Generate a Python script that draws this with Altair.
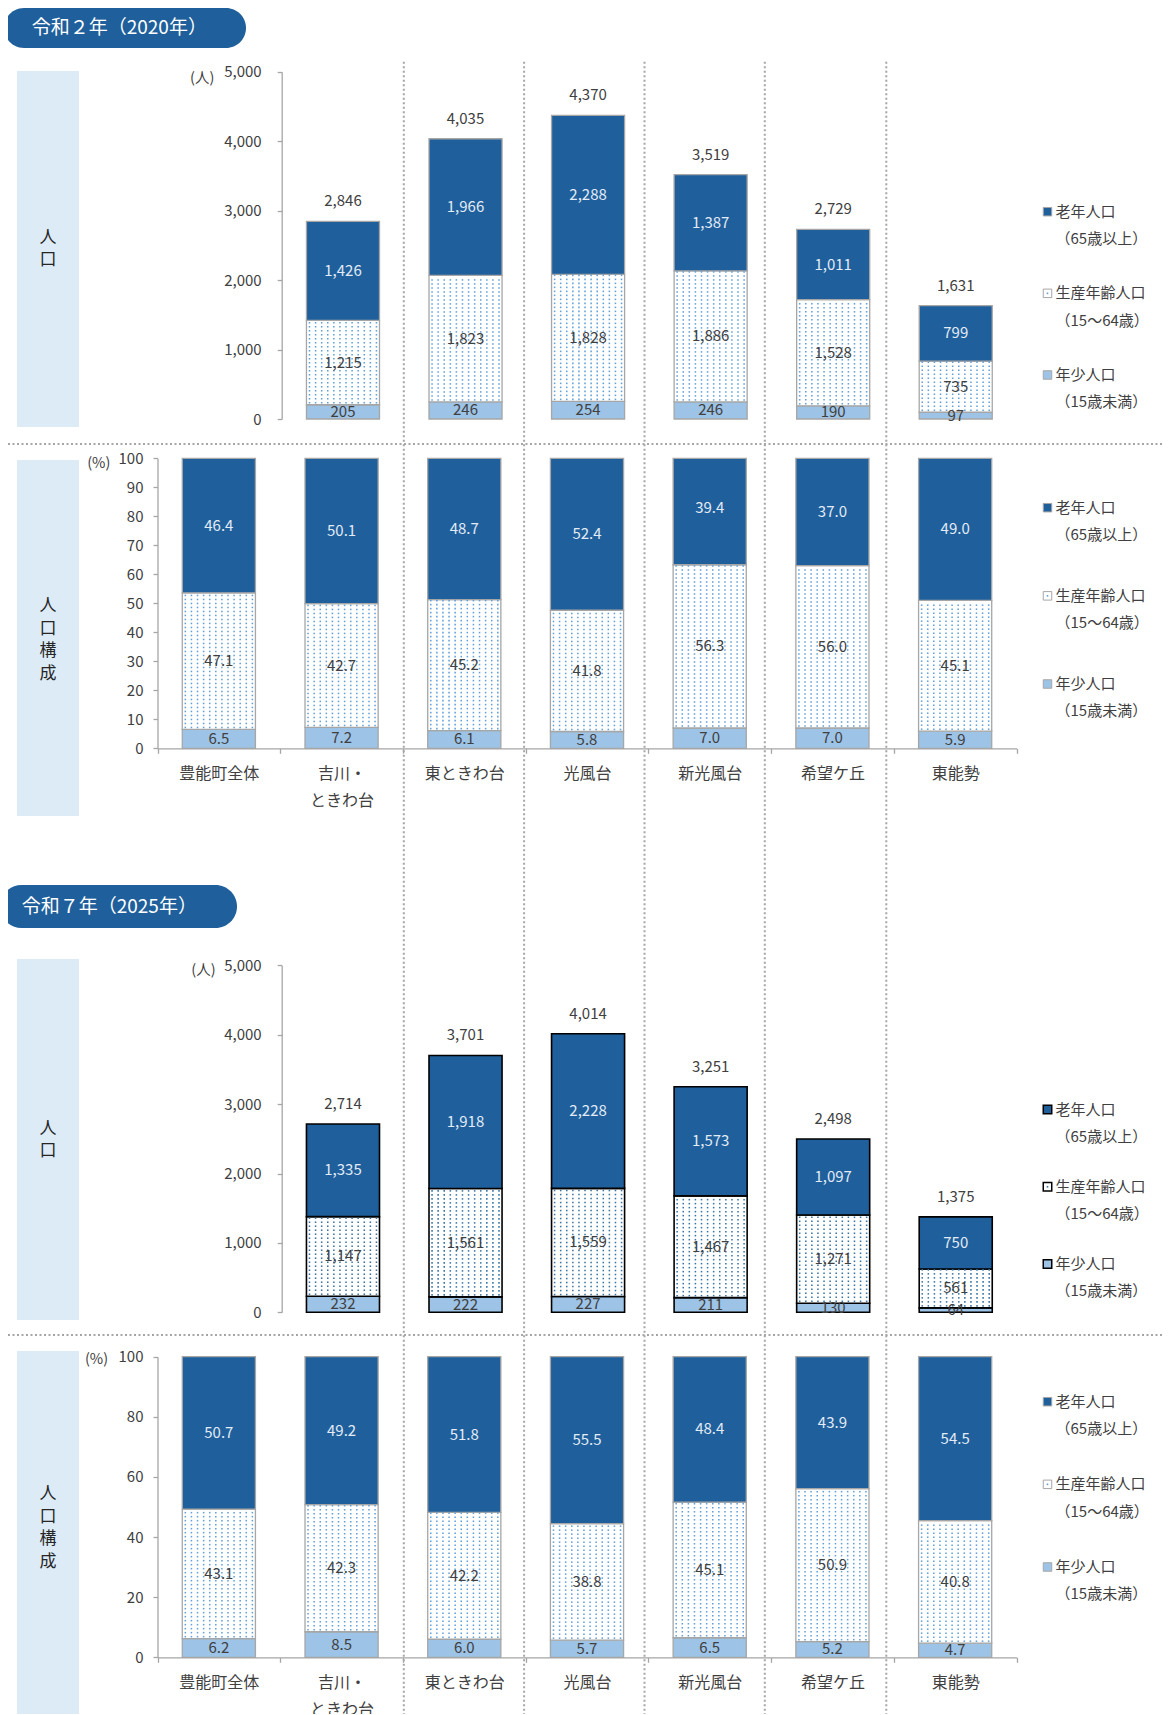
import json
import altair as alt
import pandas as pd

FONT = "Noto Sans CJK JP"

# ---------------- data ----------------
CATEGORIES = ["豊能町全体", "吉川・ときわ台", "東ときわ台", "光風台", "新光風台", "希望ケ丘", "東能勢"]
CATEGORY_LINES = [["豊能町全体"], ["吉川・", "ときわ台"], ["東ときわ台"], ["光風台"],
                  ["新光風台"], ["希望ケ丘"], ["東能勢"]]
GROUPS = ["老年人口", "生産年齢人口", "年少人口"]
GROUP_NOTES = ["（65歳以上）", "（15～64歳）", "（15歳未満）"]

# 令和2年 (2020) population, areas 吉川・ときわ台 .. 東能勢
OLD_2020 = [1426, 1966, 2288, 1387, 1011, 799]
WORK_2020 = [1215, 1823, 1828, 1886, 1528, 735]
YOUNG_2020 = [205, 246, 254, 246, 190, 97]
# 令和2年 (2020) composition (%), all 7 areas
OLD_PCT_2020 = [46.4, 50.1, 48.7, 52.4, 39.4, 37.0, 49.0]
WORK_PCT_2020 = [47.1, 42.7, 45.2, 41.8, 56.3, 56.0, 45.1]
YOUNG_PCT_2020 = [6.5, 7.2, 6.1, 5.8, 7.0, 7.0, 5.9]

# 令和7年 (2025)
OLD_2025 = [1335, 1918, 2228, 1573, 1097, 750]
WORK_2025 = [1147, 1561, 1559, 1467, 1271, 561]
YOUNG_2025 = [232, 222, 227, 211, 130, 64]
OLD_PCT_2025 = [50.7, 49.2, 51.8, 55.5, 48.4, 43.9, 54.5]
WORK_PCT_2025 = [43.1, 42.3, 42.2, 38.8, 45.1, 50.9, 40.8]
YOUNG_PCT_2025 = [6.2, 8.5, 6.0, 5.7, 6.5, 5.2, 4.7]

COUNT_TICKS = [0, 1000, 2000, 3000, 4000, 5000]
PCT_TICKS_2020 = [0, 10, 20, 30, 40, 50, 60, 70, 80, 90, 100]
PCT_TICKS_2025 = [0, 20, 40, 60, 80, 100]

TITLE_2020 = "令和２年（2020年）"
TITLE_2025 = "令和７年（2025年）"
SIDE_COUNT = "人\n口"
SIDE_PCT = "人\n口\n構\n成"

# ---------------- style ----------------
W, H = 1155, 1706
TXT = "#404040"
OLD_C = "#1F5F9B"
WORK_C = "#FFFFFF"
YOUNG_C = "#9DC3E6"
OLD_LABEL_C = "#E2EBF6"
BOX_C = "#DDEBF7"
PILL_C = "#1F5F9B"
SEP_C = "#A6A6A6"
GRAY = "#A6A6A6"
DOT_LIGHT = "#5B9BD5"
DOT_DARK = "#2E6D9E"
HW = 0.298          # half bar width in category units
NCOLS = 12          # dot columns in the hatched segment
DOT_PX = 4.0        # vertical dot spacing in px

ONE = pd.DataFrame({"k": [0]})


def long_table(old, work, young, first_idx):
    recs = []
    for i in range(len(old)):
        base = 0.0
        for g, v in ((GROUPS[2], young[i]), (GROUPS[1], work[i]), (GROUPS[0], old[i])):
            recs.append({"cat": CATEGORIES[first_idx + i], "idx": first_idx + i, "group": g,
                         "value": v, "y0": base, "y1": base + v, "mid": base + v / 2})
            base += v
    return pd.DataFrame(recs)


CAT_EXPR = json.dumps(CATEGORY_LINES, ensure_ascii=False) + "[datum.value]"

COLOR_SCALE = dict(domain=GROUPS, range=[OLD_C, WORK_C, YOUNG_C])


def panel_layers(p):
    df = p["df"]
    xs = alt.Scale(domain=list(p["xdom"]), range=list(p["xrng"]), zero=False, nice=False)
    ys = alt.Scale(domain=list(p["ydom"]), range=list(p["yrng"]), zero=False, nice=False, clamp=True)
    yaxis = alt.Axis(orient="left", offset=-p["xrng"][0], values=p["yticks"], format=p["yfmt"],
                     tickSize=4.5, labelPadding=p["labpad"], title=p["unit"], titleAngle=0,
                     titleX=p["unit_xy"][0] - p["xrng"][0], titleY=p["unit_xy"][1],
                     titleAlign="center", titleBaseline="middle", titleFontSize=14.5,
                     titleFontWeight="normal", titleColor=TXT, grid=False)
    if p["xaxis_y"] is None:
        bar_xaxis = None
        cat_axis = None
    else:
        n = int(round(p["xdom"][1] - p["xdom"][0]))
        off = p["xaxis_y"] - H
        bar_xaxis = alt.Axis(orient="bottom", offset=off,
                             values=[p["xdom"][0] + k for k in range(n + 1)],
                             labels=False, tickSize=5, title=None, grid=False)
        cat_axis = alt.Axis(orient="bottom", offset=off, values=list(range(n)), domain=False,
                            ticks=False, tickSize=0, labelPadding=17, labelExpr=CAT_EXPR,
                            labelFontSize=16, labelColor=TXT, labelLineHeight=27,
                            labelOverlap=False, labelBound=False, labelFlush=False,
                            title=None, grid=False)

    bars = alt.Chart(df).transform_calculate(
        xa=f"datum.idx - {HW}", xb=f"datum.idx + {HW}"
    ).mark_rect(stroke=p["stroke"], strokeWidth=p["sw"]).encode(
        x=alt.X("xa:Q", scale=xs, axis=bar_xaxis),
        x2="xb:Q",
        y=alt.Y("y0:Q", scale=ys, axis=yaxis),
        y2="y1:Q",
        color=alt.Color("group:N", scale=alt.Scale(**COLOR_SCALE), legend=None),
    )

    span = abs(p["yrng"][0] - p["yrng"][1])
    step = DOT_PX * (p["ydom"][1] - p["ydom"][0]) / span
    dots = alt.Chart(df).transform_filter(
        alt.datum.group == GROUPS[1]
    ).transform_calculate(
        row=f"sequence(datum.y0 + {step / 2}, datum.y1 - {step * 0.2}, {step})"
    ).transform_flatten(["row"]).transform_calculate(
        col=f"sequence(0, {NCOLS})"
    ).transform_flatten(["col"]).transform_calculate(
        xd=f"datum.idx - {HW} + (datum.col + 0.5) * {2 * HW / NCOLS}"
    ).mark_square(size=2.4, color=p["dot"], opacity=0.95).encode(
        x=alt.X("xd:Q", scale=xs, axis=cat_axis),
        y=alt.Y("row:Q", scale=ys, axis=None),
    )

    labels = alt.Chart(df).mark_text(fontSize=15, baseline="middle").encode(
        x=alt.X("idx:Q", scale=xs, axis=None),
        y=alt.Y("mid:Q", scale=ys, axis=None),
        text=alt.Text("value:Q", format=p["vfmt"]),
        color=alt.condition(alt.datum.group == GROUPS[0], alt.value(OLD_LABEL_C), alt.value(TXT)),
    )
    out = [bars, dots, labels]
    if p["totals"]:
        totals = alt.Chart(df).transform_aggregate(
            total="sum(value)", groupby=["idx"]
        ).mark_text(fontSize=15, dy=-20, color=TXT, baseline="middle").encode(
            x=alt.X("idx:Q", scale=xs, axis=None),
            y=alt.Y("total:Q", scale=ys, axis=None),
            text=alt.Text("total:Q", format=","),
        )
        out.append(totals)
    return out


LEG_SYM_X = 1039.5
LEG_TXT_X = 1047.5


def legend_layers(y_first, y_last, stroke, sw, dot):
    ldf = pd.DataFrame({"group": GROUPS,
                        "label": [f"{g}\n{n}" for g, n in zip(GROUPS, GROUP_NOTES)]})
    ysc = alt.Scale(type="point", domain=GROUPS, range=[y_first, y_last], padding=0)
    sq = alt.Chart(ldf).mark_square(size=72, stroke=stroke, strokeWidth=sw, opacity=1,
                                    filled=True).encode(
        x=alt.value(LEG_SYM_X),
        y=alt.Y("group:N", scale=ysc, axis=None),
        color=alt.Color("group:N", scale=alt.Scale(**COLOR_SCALE), legend=None),
    )
    sdot = alt.Chart(ldf).transform_filter(alt.datum.group == GROUPS[1]).mark_square(
        size=2.5, color=dot, opacity=1).encode(
        x=alt.value(LEG_SYM_X),
        y=alt.Y("group:N", scale=ysc, axis=None),
    )
    tx = alt.Chart(ldf).mark_text(align="left", baseline="middle", fontSize=15, lineBreak="\n",
                                  lineHeight=27.4, color=TXT).encode(
        x=alt.value(LEG_TXT_X),
        y=alt.Y("group:N", scale=ysc, axis=None),
        text="label:N",
    )
    return [sq, sdot, tx]


def rect(x1, x2, y1, y2, color, radius=None):
    kw = {"color": color}
    if radius:
        kw["cornerRadius"] = radius
    return alt.Chart(ONE).mark_rect(**kw).encode(
        x=alt.value(x1), x2=alt.value(x2), y=alt.value(y1), y2=alt.value(y2))


def text_at(x, y, text, size, color, align="center", line_height=22):
    # multi-line text: the first line sits at y, so shift the block to centre it
    n_lines = text.count("\n") + 1
    return alt.Chart(ONE).mark_text(text=text, fontSize=size, color=color, align=align,
                                    baseline="middle", lineBreak="\n", lineHeight=line_height,
                                    dy=-(n_lines - 1) * line_height / 2).encode(
        x=alt.value(x), y=alt.value(y))


layers = []
# side boxes
for (y1, y2) in ((63, 419), (452, 808), (951, 1312), (1343, H)):
    layers.append(rect(9, 71, y1, y2, BOX_C))
for (yc, txt) in ((241, SIDE_COUNT), (632, SIDE_PCT), (1132, SIDE_COUNT), (1520, SIDE_PCT)):
    layers.append(text_at(40, yc, txt, 17, "#262626", line_height=22.5))

# dotted separators
for xv in (395.8, 516.1, 636.5, 756.8, 878.3):
    layers.append(alt.Chart(ONE).mark_rule(color=SEP_C, strokeWidth=2, strokeDash=[2, 2.5]).encode(
        x=alt.value(xv), y=alt.value(53.7), y2=alt.value(H)))
for yv in (436, 1327):
    layers.append(alt.Chart(ONE).mark_rule(color=SEP_C, strokeWidth=2, strokeDash=[2, 2.5]).encode(
        x=alt.value(0), x2=alt.value(W), y=alt.value(yv)))

# section header pills
layers.append(rect(-4, 238, 0, 40, PILL_C, radius=20))
layers.append(text_at(23.7, 20, TITLE_2020, 19, "#FFFFFF", align="left"))
layers.append(rect(-8, 229, 877, 920, PILL_C, radius=21.5))
layers.append(text_at(13.7, 898.7, TITLE_2025, 19, "#FFFFFF", align="left"))

PANELS = [
    dict(df=long_table(OLD_2020, WORK_2020, YOUNG_2020, 1), xdom=(0.5, 6.5), xrng=(273.7, 1009.0),
         ydom=(0, 5000), yrng=(411.0, 63.7), yticks=COUNT_TICKS, yfmt=",d", unit="(人)",
         unit_xy=(193.7, 70.3), labpad=16, vfmt=",", stroke=GRAY, sw=1.3, dot=DOT_LIGHT,
         xaxis_y=None, totals=True),
    dict(df=long_table(OLD_PCT_2020, WORK_PCT_2020, YOUNG_PCT_2020, 0), xdom=(-0.5, 6.5),
         xrng=(149.5, 1008.5), ydom=(0, 100), yrng=(740.3, 450.3), yticks=PCT_TICKS_2020,
         yfmt="d", unit="(%)", unit_xy=(90.3, 455.3), labpad=10, vfmt=".1f", stroke=GRAY, sw=1.3,
         dot=DOT_LIGHT, xaxis_y=740.3, totals=False),
    dict(df=long_table(OLD_2025, WORK_2025, YOUNG_2025, 1), xdom=(0.5, 6.5), xrng=(273.7, 1009.0),
         ydom=(0, 5000), yrng=(1304.3, 957.3), yticks=COUNT_TICKS, yfmt=",d", unit="(人)",
         unit_xy=(195.0, 962.0), labpad=16, vfmt=",", stroke="#000000", sw=1.6, dot=DOT_DARK,
         xaxis_y=None, totals=True),
    dict(df=long_table(OLD_PCT_2025, WORK_PCT_2025, YOUNG_PCT_2025, 0), xdom=(-0.5, 6.5),
         xrng=(149.5, 1008.5), ydom=(0, 100), yrng=(1649.3, 1348.7), yticks=PCT_TICKS_2025,
         yfmt="d", unit="(%)", unit_xy=(88.0, 1351.0), labpad=10, vfmt=".1f", stroke=GRAY, sw=1.3,
         dot=DOT_LIGHT, xaxis_y=1649.3, totals=False),
]
for p in PANELS:
    layers.extend(panel_layers(p))

layers.extend(legend_layers(203.7, 367.0, GRAY, 1, DOT_LIGHT))
layers.extend(legend_layers(499.7, 676.0, GRAY, 1, DOT_LIGHT))
layers.extend(legend_layers(1101.5, 1256.0, "#000000", 1.5, DOT_DARK))
layers.extend(legend_layers(1393.7, 1559.0, GRAY, 1, DOT_LIGHT))

chart = alt.layer(*layers).resolve_scale(
    x="independent", y="independent", color="independent"
).properties(
    width=W, height=H, padding=0, autosize=alt.AutoSizeParams(type="none"),
    background="#FFFFFF",
).configure(font=FONT).configure_view(stroke=None).configure_axis(
    labelFont=FONT, titleFont=FONT, labelFontSize=15, labelColor=TXT,
    domainColor=GRAY, tickColor=GRAY, domainWidth=1.3, tickWidth=1.3, grid=False,
)

chart.save("out.html", embed_options={"renderer": "svg", "actions": False})
